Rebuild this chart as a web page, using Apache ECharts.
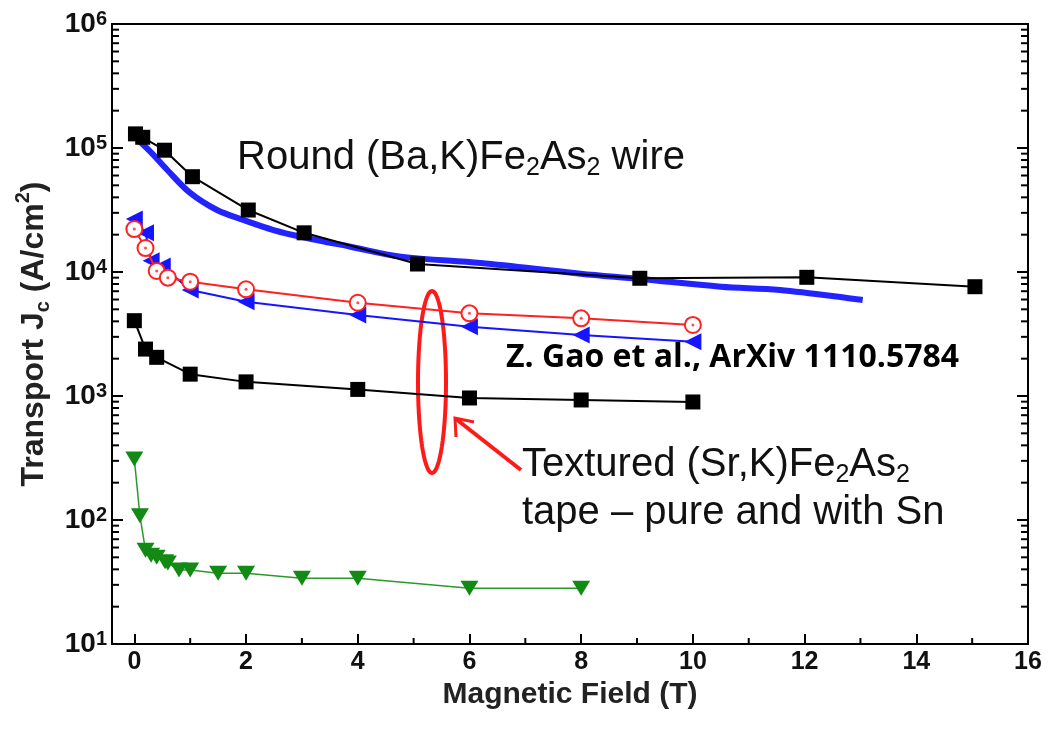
<!DOCTYPE html>
<html>
<head>
<meta charset="utf-8">
<script src="https://cdn.jsdelivr.net/npm/echarts@6/dist/echarts.min.js"></script>
<style>
  html, body { margin: 0; padding: 0; background: #fff; }
  #chart { width: 1055px; height: 734px; }
</style>
</head>
<body>
<div id="chart"></div>
<script>
// Transport critical current density Jc (A/cm^2) versus magnetic field (T)

// Round (Ba,K)Fe2As2 wire: discrete points
const wireField = [0.02, 0.15, 0.54, 1.04, 2.04, 3.04, 5.07, 9.05, 12.04, 15.05];
const wireJc    = [130000, 122000, 96000, 58700, 31600, 20700, 11600, 8900, 9060, 7610];

// Round wire: continuous field sweep
const sweepField = [0.07, 0.29, 0.59, 1.0, 1.48, 1.95, 2.49, 3.09, 3.87, 4.77, 6.2, 7.99, 9.06, 10.5, 11.56, 13.04];
const sweepJc    = [116000, 93000, 66500, 43400, 31600, 26300, 21800, 18800, 16000, 13300, 11800, 9700, 8790, 7610, 7160, 5940];

// Textured (Sr,K)Fe2As2 tapes
const tapeSnField = [0, 0.2, 0.4, 0.6, 1, 2, 4, 6, 8, 10];
const tapeSnJc    = [22200, 15600, 10200, 9000, 8350, 7250, 5650, 4640, 4230, 3740];

const tapePureField = [0, 0.2, 0.3, 0.5, 1, 2, 4, 6, 8, 10];
const tapePureJc    = [26700, 20700, 12300, 11200, 7160, 5760, 4500, 3620, 3100, 2740];

const tapeLowField = [0, 0.2, 0.4, 1, 2, 4, 6, 8, 10];
const tapeLowJc    = [4050, 2390, 2050, 1500, 1300, 1130, 964, 929, 895];

// Early untextured sample
const earlyField = [0, 0.1, 0.2, 0.3, 0.4, 0.55, 0.6, 0.8, 1, 1.5, 2, 3, 4, 6, 8];
const earlyJc    = [310, 108, 57, 52, 50, 46, 45, 39.5, 39.5, 37.2, 37.2, 33.9, 33.9, 28.1, 28.1];

// Axis ticks
const xMajorTicks = [0, 2, 4, 6, 8, 10, 12, 14, 16];
const xMinorTicks = [1, 3, 5, 7, 9, 11, 13, 15];
const yDecades = [1e1, 1e2, 1e3, 1e4, 1e5, 1e6];

const X_MIN = -0.4, X_MAX = 16;
const FONT = '"Liberation Sans", Arial, sans-serif';

const pairs = (xs, ys) => xs.map((x, i) => [x, ys[i]]);

// log-scale minor tick values (2..9 within each decade)
const yMinorTicks = [];
for (let d = 0; d < yDecades.length - 1; d++) {
  for (let m = 2; m <= 9; m++) yMinorTicks.push(yDecades[d] * m);
}

const chart = echarts.init(document.getElementById('chart'), null, { renderer: 'canvas' });

function ellipsePoints(cx, cy, rx, ry) {
  const pts = [];
  for (let k = 0; k < 72; k++) {
    const a = (k / 72) * Math.PI * 2;
    pts.push([cx + rx * Math.cos(a), cy + ry * Math.sin(a)]);
  }
  return pts;
}

const option = {
  animation: false,
  backgroundColor: '#fff',
  grid: {
    left: 112, right: 27, top: 24, bottom: 90,
    show: true, borderColor: '#000', borderWidth: 2, backgroundColor: 'transparent'
  },
  xAxis: {
    type: 'value', min: X_MIN, max: X_MAX,
    name: 'Magnetic Field (T)', nameLocation: 'middle', nameGap: 29,
    nameTextStyle: { fontFamily: FONT, fontWeight: 'bold', fontSize: 30, color: '#222' },
    axisLine: { show: true, onZero: false, lineStyle: { color: '#000', width: 2 } },
    axisTick: { show: true, inside: true, length: 10, lineStyle: { color: '#000', width: 2 }, customValues: xMajorTicks },
    axisLabel: {
      customValues: xMajorTicks, margin: 6,
      fontFamily: FONT, fontWeight: 'bold', fontSize: 25, color: '#111'
    },
    splitLine: { show: false }
  },
  yAxis: [
    {
      type: 'log', logBase: 10, min: 10, max: 1e6, interval: 1,
      name: '{a|Transport J}{sub|c}{a| (A/cm}{sup|2}{a|)}',
      nameLocation: 'middle', nameGap: 55, nameRotate: 90,
      nameTextStyle: {
        rich: {
          a: { fontFamily: FONT, fontWeight: 'bold', fontSize: 32, color: '#222', lineHeight: 40 },
          sub: { fontFamily: FONT, fontWeight: 'bold', fontSize: 20, color: '#222', lineHeight: 18, verticalAlign: 'bottom' },
          sup: { fontFamily: FONT, fontWeight: 'bold', fontSize: 20, color: '#222', lineHeight: 18, verticalAlign: 'top' }
        }
      },
      axisLine: { show: true, onZero: false, lineStyle: { color: '#000', width: 2 } },
      axisTick: { show: true, inside: true, length: 11, lineStyle: { color: '#000', width: 2 } },
      axisLabel: {
        margin: 5,
        formatter: v => '{b|10}{p|' + Math.round(Math.log10(v)) + '}',
        rich: {
          b: { fontFamily: FONT, fontWeight: 'bold', fontSize: 28, color: '#111', lineHeight: 30 },
          p: { fontFamily: FONT, fontWeight: 'bold', fontSize: 20, color: '#111', lineHeight: 14, verticalAlign: 'top' }
        }
      },
      splitLine: { show: false }
    },
    {
      type: 'log', logBase: 10, min: 10, max: 1e6, interval: 1, position: 'right',
      axisLine: { show: true, onZero: false, lineStyle: { color: '#000', width: 2 } },
      axisTick: { show: true, inside: true, length: 11, lineStyle: { color: '#000', width: 2 } },
      axisLabel: { show: false },
      splitLine: { show: false }
    }
  ],
  series: [
    {
      name: 'sweep', type: 'line', data: pairs(sweepField, sweepJc),
      smooth: 0.35, showSymbol: false, symbol: 'none',
      lineStyle: { color: '#2323ff', width: 6 }, z: 2
    },
    {
      name: 'wire', type: 'line', data: pairs(wireField, wireJc),
      symbol: 'rect', symbolSize: 15,
      itemStyle: { color: '#000' }, lineStyle: { color: '#000', width: 2 }, z: 3
    },
    {
      name: 'tapePure', type: 'line', data: pairs(tapePureField, tapePureJc),
      symbol: 'triangle', symbolRotate: 90, symbolSize: [17, 17],
      itemStyle: { color: '#1515ff' }, lineStyle: { color: '#1515ff', width: 2 }, z: 3
    },
    {
      name: 'tapeSn', type: 'line', data: pairs(tapeSnField, tapeSnJc),
      symbol: 'circle', symbolSize: 16,
      itemStyle: { color: '#fff', borderColor: '#ff2020', borderWidth: 2 },
      lineStyle: { color: '#ff2020', width: 2 }, z: 4
    },
    {
      name: 'tapeSnDot', type: 'scatter', data: pairs(tapeSnField, tapeSnJc),
      symbol: 'circle', symbolSize: 3, itemStyle: { color: '#ff2020' }, z: 5
    },
    {
      name: 'tapeLow', type: 'line', data: pairs(tapeLowField, tapeLowJc),
      symbol: 'rect', symbolSize: 15,
      itemStyle: { color: '#000' }, lineStyle: { color: '#000', width: 2 }, z: 3
    },
    {
      name: 'early', type: 'line', data: pairs(earlyField, earlyJc),
      symbol: 'triangle', symbolRotate: 180, symbolSize: [18, 15],
      itemStyle: { color: '#138a13' }, lineStyle: { color: '#2a9a2a', width: 1.5 }, z: 3
    },
    {
      // minor ticks on both log axes
      name: 'yMinor', type: 'custom', coordinateSystem: 'cartesian2d', silent: true, clip: false,
      data: yMinorTicks.map(v => [X_MIN, v]),
      renderItem: (params, api) => {
        const v = api.value(1);
        const l = api.coord([X_MIN, v]);
        const r = api.coord([X_MAX, v]);
        return {
          type: 'group', children: [
            { type: 'line', shape: { x1: l[0], y1: l[1], x2: l[0] + 7, y2: l[1] }, style: { stroke: '#000', lineWidth: 2 } },
            { type: 'line', shape: { x1: r[0], y1: r[1], x2: r[0] - 7, y2: r[1] }, style: { stroke: '#000', lineWidth: 2 } }
          ]
        };
      }
    },
    {
      name: 'xMinor', type: 'custom', coordinateSystem: 'cartesian2d', silent: true, clip: false,
      data: xMinorTicks.map(x => [x, 10]),
      renderItem: (params, api) => {
        const p = api.coord([api.value(0), 10]);
        return { type: 'line', shape: { x1: p[0], y1: p[1], x2: p[0], y2: p[1] - 6 }, style: { stroke: '#000', lineWidth: 2 } };
      }
    }
  ],
  graphic: [
    {
      type: 'text', left: 237, top: 138, silent: true,
      style: {
        text: '{a|Round (Ba,K)Fe}{s|2}{a|As}{s|2}{a| wire}',
        rich: {
          a: { fontFamily: FONT, fontSize: 40, fill: '#111', lineHeight: 46 },
          s: { fontFamily: FONT, fontSize: 25, fill: '#111', lineHeight: 24, verticalAlign: 'bottom' }
        }
      }
    },
    {
      type: 'text', left: 506, top: 342, silent: true,
      style: { text: 'Z. Gao et al., ArXiv 1110.5784', font: 'bold 32px "Open Sans", Lato, sans-serif', fill: '#000' }
    },
    {
      type: 'text', left: 522, top: 445, silent: true,
      style: {
        text: '{a|Textured (Sr,K)Fe}{s|2}{a|As}{s|2}',
        rich: {
          a: { fontFamily: FONT, fontSize: 40, fill: '#111', lineHeight: 46 },
          s: { fontFamily: FONT, fontSize: 25, fill: '#111', lineHeight: 24, verticalAlign: 'bottom' }
        }
      }
    },
    {
      type: 'text', left: 522, top: 493, silent: true,
      style: {
        text: 'tape \u2013 pure and with Sn',
        font: '40px ' + FONT, fill: '#111'
      }
    },
    {
      type: 'polygon', silent: true,
      shape: { points: ellipsePoints(432, 382, 14, 91) },
      style: { fill: 'none', stroke: '#ff1a1a', lineWidth: 4 }
    },
    {
      type: 'line', silent: true,
      shape: { x1: 521, y1: 470, x2: 456, y2: 419 },
      style: { stroke: '#ff1a1a', lineWidth: 4 }
    },
    {
      type: 'polyline', silent: true,
      shape: { points: [[456, 437], [455, 418], [474, 422]] },
      style: { stroke: '#ff1a1a', lineWidth: 3, fill: 'none' }
    }
  ]
};

chart.setOption(option);
</script>
</body>
</html>
